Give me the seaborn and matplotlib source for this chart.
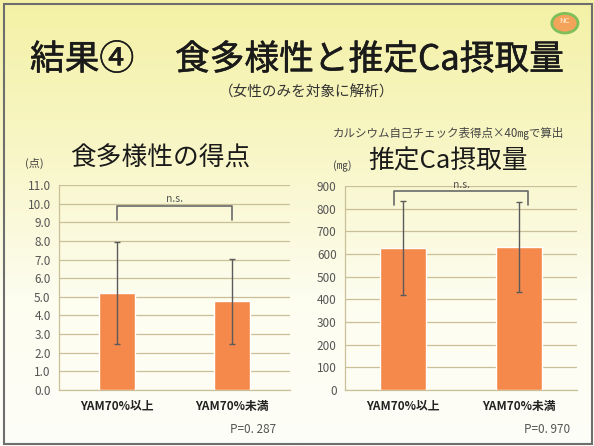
import numpy as np
import pandas as pd
import matplotlib
matplotlib.use("Agg")
import matplotlib.pyplot as plt
import matplotlib.patheffects as pe
import seaborn as sns
from matplotlib.colors import LinearSegmentedColormap
from matplotlib.patches import Circle, Rectangle

# DATA
groups = ["YAM70%以上", "YAM70%未満"]
score_mean = [5.2, 4.75]
score_sd = [2.75, 2.3]
ca_mean = [626, 631]
ca_sd = [208, 200]
score_ticks = [0, 1, 2, 3, 4, 5, 6, 7, 8, 9, 10, 11]
ca_ticks = [0, 100, 200, 300, 400, 500, 600, 700, 800, 900]
p_score = "P=0. 287"
p_ca = "P=0. 970"

BAR = "#f5894b"
GRID = "#cbbf98"
ERR = "#5b5b5b"

sns.set_theme(style="white")
plt.rcParams['font.family'] = ['Noto Sans CJK JP', 'DejaVu Sans']

fig = plt.figure(figsize=(5.94, 4.46), dpi=100)

# slide background: yellow fading to white
bg = fig.add_axes([0, 0, 1, 1], zorder=-10)
grad = np.linspace(0, 1, 256).reshape(-1, 1)
cmap = LinearSegmentedColormap.from_list("bg", ["#f4f1a6", "#f8f6c6", "#fdfdf0", "#fefef8"])
bg.imshow(grad, aspect="auto", cmap=cmap, extent=[0, 1, 0, 1])
bg.set_xlim(0, 1)
bg.set_ylim(0, 1)
bg.axis("off")
bg.add_patch(Rectangle((0.006, 0.004), 0.99, 0.988, fill=False, ec="#6e6e6e", lw=1.5))
bg.add_patch(Circle((0.951, 0.948), 0.022, transform=bg.transAxes, fc="#f4a35a", ec="#7fbf5a", lw=2))
bg.text(0.951, 0.953, "NC", ha="center", va="center", fontsize=5.5, color="#fff6e0")


def draw_panel(ax, means, sds, ticks, ymax, fmt, width, bx, by, leg, ns_y, ptext, px):
    df = pd.DataFrame({"group": groups, "value": means})
    sns.barplot(data=df, x="group", y="value", color=BAR, saturation=1,
                width=width, errorbar=None, ax=ax, zorder=3)
    ax.errorbar(range(len(means)), means, yerr=sds, fmt="none", ecolor=ERR,
                elinewidth=1, capsize=2, capthick=1, zorder=4)
    # significance bracket
    ax.plot([bx[0], bx[0], bx[1], bx[1]], [by - leg, by, by, by - leg],
            color="#6a6a6a", lw=1.2, zorder=5, clip_on=False)
    ax.text(sum(bx) / 2, ns_y, "n.s.", ha="center", va="bottom", fontsize=7.5,
            color="#555555", zorder=5, clip_on=False)
    ax.set_xlim(-0.5, 1.5)
    ax.set_ylim(0, ymax)
    ax.set_yticks(ticks)
    ax.set_yticklabels([fmt.format(t) for t in ticks])
    ax.yaxis.grid(True, color=GRID, lw=0.9)
    ax.set_axisbelow(True)
    ax.set_facecolor("none")
    ax.set_xlabel("")
    ax.set_ylabel("")
    for s in ["top", "right"]:
        ax.spines[s].set_visible(False)
    for s in ["left", "bottom"]:
        ax.spines[s].set_color(GRID)
        ax.spines[s].set_linewidth(0.9)
    ax.tick_params(axis="y", length=0, pad=6, labelsize=8.5, labelcolor="#555555")
    ax.tick_params(axis="x", length=0, pad=7, labelsize=8.5, labelcolor="#222222")
    for lab in ax.get_xticklabels():
        lab.set_fontweight("bold")
    ax.text(px, -0.195, ptext, transform=ax.transAxes, ha="right", va="center",
            fontsize=8.5, color="#555555")


ax1 = fig.add_axes([0.0993, 0.1256, 0.3889, 0.4596])
draw_panel(ax1, score_mean, score_sd, score_ticks, 11, "{:.1f}", 0.31,
           (0, 1), 9.85, 0.75, 10.0, p_score, 0.94)

ax2 = fig.add_axes([0.5808, 0.1256, 0.3906, 0.4574])
draw_panel(ax2, ca_mean, ca_sd, ca_ticks, 900, "{:d}", 0.40,
           (-0.08, 1.08), 878, 62, 884, p_ca, 0.97)

# titles (regular face, thickened slightly toward the slide's medium weight)
thick = [pe.withStroke(linewidth=0.4, foreground="#1a1a1a")]
fig.text(0.0505, 0.865, "結果④", fontsize=25, color="#1a1a1a", va="center",
         path_effects=thick)
fig.text(0.2946, 0.865, "食多様性と推定Ca摂取量", fontsize=25, color="#1a1a1a",
         va="center", path_effects=thick)
fig.text(0.517, 0.7915, "（女性のみを対象に解析）", fontsize=10.5, color="#333333",
         ha="center", va="center")
fig.text(0.5606, 0.702, "カルシウム自己チェック表得点×40㎎で算出", fontsize=8.3,
         color="#444444", va="center")

fig.text(0.1178, 0.6435, "食多様性の得点", fontsize=18.5, color="#1a1a1a", va="center")
fig.text(0.042, 0.6345, "(点)", fontsize=8, color="#444444", va="center")
fig.text(0.6195, 0.637, "推定Ca摂取量", fontsize=18.5, color="#1a1a1a", va="center")
fig.text(0.5606, 0.627, "(㎎)", fontsize=8, color="#444444", va="center")

plt.savefig("out.png", dpi=100)
